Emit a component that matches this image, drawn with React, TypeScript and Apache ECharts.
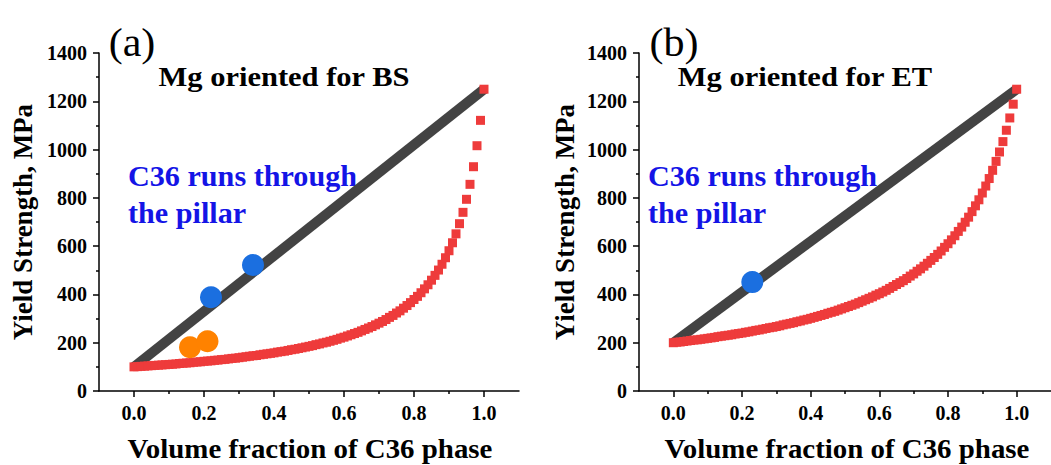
import React, { useEffect, useRef } from "react";
import * as echarts from "echarts";

// ---------- data ----------
const FRACTION = [
  0, 0.01, 0.02, 0.03, 0.04, 0.05, 0.06, 0.07, 0.08, 0.09,
  0.1, 0.11, 0.12, 0.13, 0.14, 0.15, 0.16, 0.17, 0.18, 0.19,
  0.2, 0.21, 0.22, 0.23, 0.24, 0.25, 0.26, 0.27, 0.28, 0.29,
  0.3, 0.31, 0.32, 0.33, 0.34, 0.35, 0.36, 0.37, 0.38, 0.39,
  0.4, 0.41, 0.42, 0.43, 0.44, 0.45, 0.46, 0.47, 0.48, 0.49,
  0.5, 0.51, 0.52, 0.53, 0.54, 0.55, 0.56, 0.57, 0.58, 0.59,
  0.6, 0.61, 0.62, 0.63, 0.64, 0.65, 0.66, 0.67, 0.68, 0.69,
  0.7, 0.71, 0.72, 0.73, 0.74, 0.75, 0.76, 0.77, 0.78, 0.79,
  0.8, 0.81, 0.82, 0.83, 0.84, 0.85, 0.86, 0.87, 0.88, 0.89,
  0.9, 0.91, 0.92, 0.93, 0.94, 0.95, 0.96, 0.97, 0.98, 0.99,
  1.0,
];

// panel (a): lower bound (red squares)
const RED_A = [
  100, 101, 102, 103, 104, 105, 106, 107, 108, 109,
  110, 111, 112, 114, 115, 116, 117, 119, 120, 121,
  123, 124, 125, 127, 128, 130, 131, 133, 135, 136,
  138, 140, 142, 144, 146, 147, 150, 152, 154, 156,
  158, 161, 163, 165, 168, 171, 173, 176, 179, 182,
  185, 188, 192, 195, 199, 202, 206, 210, 214, 219,
  223, 228, 233, 238, 243, 249, 255, 261, 267, 274,
  281, 288, 296, 305, 313, 323, 332, 343, 354, 366,
  379, 392, 407, 423, 440, 459, 479, 501, 525, 552,
  581, 614, 651, 693, 740, 794, 856, 929, 1016, 1121,
  1250,
];

// panel (b): lower bound (red squares)
const RED_B = [
  200, 202, 203, 205, 207, 209, 211, 212, 214, 216,
  218, 220, 222, 225, 227, 229, 231, 233, 236, 238,
  240, 243, 245, 248, 251, 253, 256, 259, 262, 264,
  267, 270, 274, 277, 280, 283, 287, 290, 294, 297,
  301, 305, 309, 313, 317, 322, 326, 330, 335, 340,
  345, 350, 355, 360, 366, 372, 378, 384, 390, 397,
  403, 410, 417, 425, 433, 441, 449, 457, 466, 476,
  485, 496, 506, 517, 529, 541, 553, 566, 580, 595,
  610, 626, 643, 661, 679, 699, 720, 743, 767, 792,
  820, 849, 880, 914, 951, 990, 1033, 1080, 1131, 1188,
  1250,
];

// upper bound (black line)
const LINE_X = [0, 1];
const LINE_A = [100, 1250];
const LINE_B = [200, 1250];

// measured points
const BLUE_A_X = [0.22, 0.34];
const BLUE_A_Y = [388, 522];
const ORANGE_A_X = [0.16, 0.21];
const ORANGE_A_Y = [181, 206];
const BLUE_B_X = [0.23];
const BLUE_B_Y = [451];

// ticks
const X_MAJOR = [0, 0.2, 0.4, 0.6, 0.8, 1.0];
const X_MINOR = [0.1, 0.3, 0.5, 0.7, 0.9];

const FONT = '"Liberation Serif", "Times New Roman", serif';
const AXIS_COLOR = "#000";

const pairs = (xs: number[], ys: number[]) => xs.map((x, i) => [x, ys[i]]);

function xAxes(grid: number) {
  const lineStyle = { color: AXIS_COLOR, width: 1.5 };
  return [
    {
      type: "value",
      gridIndex: grid,
      min: -0.1,
      max: 1.1,
      interval: 0.1,
      position: "bottom",
      splitLine: { show: false },
      axisLine: { show: true, onZero: false, lineStyle },
      axisTick: { show: true, customValues: X_MAJOR, length: 6, lineStyle },
      axisLabel: {
        customValues: X_MAJOR,
        formatter: (v: number) => v.toFixed(1),
        margin: 12,
        fontFamily: FONT,
        fontWeight: "bold",
        fontSize: 20,
        color: "#000",
      },
    },
    {
      type: "value",
      gridIndex: grid,
      min: -0.1,
      max: 1.1,
      interval: 0.1,
      position: "bottom",
      splitLine: { show: false },
      axisLine: { show: false, onZero: false },
      axisTick: { show: true, customValues: X_MINOR, length: 3, lineStyle },
      axisLabel: { show: false },
    },
  ];
}

function yAxis(grid: number) {
  const lineStyle = { color: AXIS_COLOR, width: 1.5 };
  return {
    type: "value",
    gridIndex: grid,
    min: 0,
    max: 1400,
    interval: 200,
    splitLine: { show: false },
    axisLine: { show: true, onZero: false, lineStyle },
    axisTick: { show: true, length: 6, lineStyle },
    minorTick: { show: true, splitNumber: 2, length: 3, lineStyle },
    minorSplitLine: { show: false },
    axisLabel: {
      margin: 12,
      formatter: (v: number) => String(v),
      fontFamily: FONT,
      fontWeight: "bold",
      fontSize: 20,
      color: "#000",
    },
  };
}

function panelSeries(
  xIdx: number,
  yIdx: number,
  lineY: number[],
  redY: number[],
  blueX: number[],
  blueY: number[],
  orangeX: number[] | null,
  orangeY: number[] | null
) {
  const s: any[] = [
    {
      type: "line",
      xAxisIndex: xIdx,
      yAxisIndex: yIdx,
      data: pairs(LINE_X, lineY),
      showSymbol: false,
      lineStyle: { color: "#434343", width: 10, cap: "butt" },
      z: 2,
      silent: true,
    },
    {
      type: "scatter",
      xAxisIndex: xIdx,
      yAxisIndex: yIdx,
      data: pairs(FRACTION, redY),
      symbol: "rect",
      symbolSize: 9,
      itemStyle: { color: "#ee3b3b", opacity: 1 },
      z: 3,
      silent: true,
    },
    {
      type: "scatter",
      xAxisIndex: xIdx,
      yAxisIndex: yIdx,
      data: pairs(blueX, blueY),
      symbol: "circle",
      symbolSize: 22,
      itemStyle: { color: "#1b6fe0", opacity: 1 },
      z: 4,
      silent: true,
    },
  ];
  if (orangeX && orangeY) {
    s.push({
      type: "scatter",
      xAxisIndex: xIdx,
      yAxisIndex: yIdx,
      data: pairs(orangeX, orangeY),
      symbol: "circle",
      symbolSize: 22,
      itemStyle: { color: "#ff8200", opacity: 1 },
      z: 4,
      silent: true,
    });
  }
  return s;
}

function txt(
  text: string,
  x: number,
  y: number,
  opts: {
    size: number;
    color?: string;
    bold?: boolean;
    align?: string;
    rotation?: number;
    sx?: number;
  }
) {
  return {
    type: "text",
    x,
    y,
    rotation: opts.rotation || 0,
    scaleX: opts.sx || 1,
    silent: true,
    style: {
      text,
      fill: opts.color || "#000",
      fontFamily: FONT,
      fontSize: opts.size,
      fontWeight: opts.bold === false ? "normal" : "bold",
      textAlign: opts.align || "center",
      textVerticalAlign: "middle",
    },
  };
}

export default function App() {
  const ref = useRef<HTMLDivElement>(null);

  useEffect(() => {
    if (!ref.current) return;
    const chart = echarts.init(ref.current, null, { renderer: "svg" });
    const blue = "#1414e6";
    const option: any = {
      animation: false,
      backgroundColor: "#fff",
      grid: [
        { left: 99, top: 53, width: 420, height: 338 },
        { left: 639, top: 53, width: 415, height: 338 },
      ],
      xAxis: [...xAxes(0), ...xAxes(1)],
      yAxis: [yAxis(0), yAxis(1)],
      series: [
        ...panelSeries(0, 0, LINE_A, RED_A, BLUE_A_X, BLUE_A_Y, ORANGE_A_X, ORANGE_A_Y),
        ...panelSeries(2, 1, LINE_B, RED_B, BLUE_B_X, BLUE_B_Y, null, null),
      ],
      graphic: [
        txt("(a)", 132, 42, { size: 40, bold: false, sx: 1.05 }),
        txt("(b)", 674, 42, { size: 40, bold: false, sx: 1.05 }),
        txt("Mg oriented for BS", 284, 76, { size: 28, sx: 1.09 }),
        txt("Mg oriented for ET", 805, 76, { size: 28, sx: 1.09 }),
        txt("C36 runs through", 128, 176, { size: 29, color: blue, align: "left", sx: 1.04 }),
        txt("the pillar", 128, 213, { size: 29, color: blue, align: "left", sx: 1.04 }),
        txt("C36 runs through", 648, 176, { size: 29, color: blue, align: "left", sx: 1.04 }),
        txt("the pillar", 648, 213, { size: 29, color: blue, align: "left", sx: 1.04 }),
        txt("Volume fraction of C36 phase", 310, 449, { size: 27, sx: 1.07 }),
        txt("Volume fraction of C36 phase", 847, 449, { size: 27, sx: 1.07 }),
        txt("Yield Strength, MPa", 23, 222, { size: 27, rotation: Math.PI / 2 }),
        txt("Yield Strength, MPa", 565, 222, { size: 27, rotation: Math.PI / 2 }),
      ],
    };
    chart.setOption(option);
    return () => chart.dispose();
  }, []);

  return (
    <div
      ref={ref}
      style={{ position: "fixed", left: 0, top: 0, width: 1051, height: 465, background: "#fff" }}
    />
  );
}
